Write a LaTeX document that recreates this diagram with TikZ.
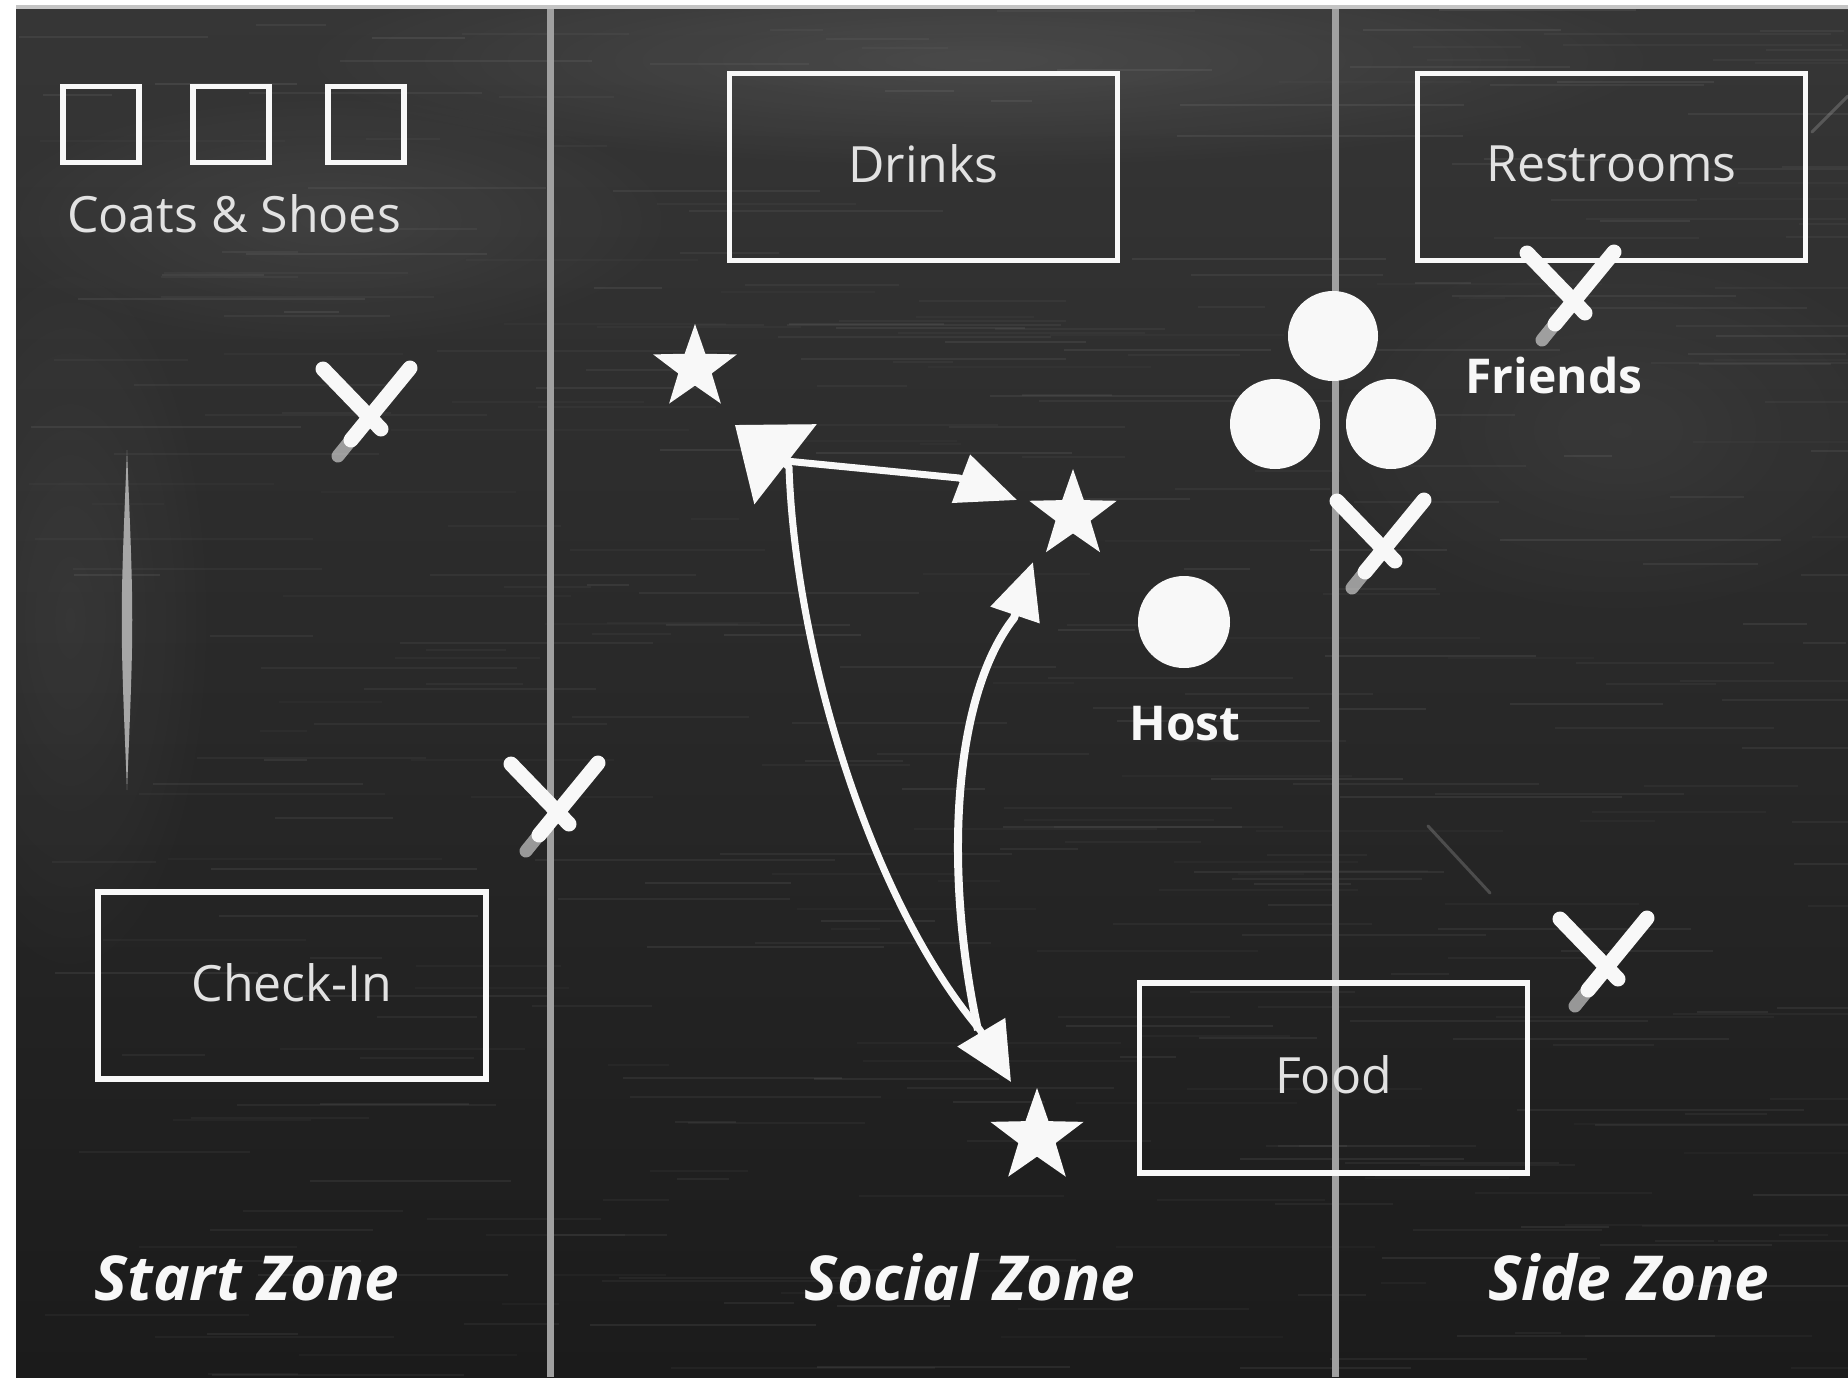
\documentclass[tikz,border=0pt]{standalone}
\usepackage{fontspec}
\setmainfont{Open Sans}
\usetikzlibrary{shapes.geometric,arrows.meta,fadings}

\definecolor{boardtop}{HTML}{363636}
\definecolor{boardmid}{HTML}{2C2C2C}
\definecolor{boardbot}{HTML}{1B1B1B}
\definecolor{chalk}{HTML}{F8F8F8}
\definecolor{chalktext}{HTML}{E2E2E2}
\definecolor{zoneline}{HTML}{A0A0A0}
\definecolor{smear}{HTML}{A6A6A6}
\definecolor{edgegray}{HTML}{C4C4C4}

\tikzfading[name=softspot, inner color=transparent!0, outer color=transparent!100]

\tikzset{
  boxframe/.style={draw=chalk, line width=5.5pt, inner sep=0pt, text=chalktext,
    text depth=7pt, font=\fontsize{50}{60}\selectfont},
  plaintext/.style={text=chalktext, font=\fontsize{50}{60}\selectfont, inner sep=0pt, anchor=base},
  boldtag/.style={text=chalk, font=\fontsize{48}{58}\selectfont\bfseries, inner sep=0pt, anchor=base},
  zonetext/.style={text=chalk, font=\fontsize{62}{74}\selectfont\bfseries\itshape, inner sep=0pt, anchor=base},
  person/.style={circle, fill=chalk, minimum size=90pt, inner sep=0pt},
  guest/.style={star, star points=5, star point ratio=2.5, fill=chalk, inner sep=0pt},
  chalkline/.style={draw=chalk, line width=7pt, line join=round},
  divider/.style={draw=zoneline, line width=7pt},
  dust/.style={fill=white, path fading=softspot},
  faintstroke/.style={draw=white, line width=3pt, line cap=round, opacity=0.18},
  xarm/.style={draw=chalk, line width=15pt, line cap=round},
  xfaint/.style={draw=chalk, line width=13pt, line cap=round, opacity=0.55},
  chalkx/.pic={
    \draw[xarm] (-40,-49) -- (18,11);
    \draw[xarm] (47,-50) -- (-12,22);
    \draw[xfaint] (-12,22) -- (-25,38);
  }
}

\begin{document}
\begin{tikzpicture}[x=1pt,y=-1pt]
\useasboundingbox (0,0) rectangle (1848,1377);

% page and chalkboard
\fill[white] (0,0) rectangle (1848,1377);
\fill[edgegray] (16,5) rectangle (1848,9);
\shade[top color=boardtop, middle color=boardmid, bottom color=boardbot]
  (16,9) rectangle (1848,1377);

% chalk dust and streaks on the board
\begin{scope}
  \clip (16,9) rectangle (1848,1377);
  \fill[dust, opacity=0.10] (980,60) ellipse (700 and 110);
  \fill[dust, opacity=0.07] (330,220) ellipse (360 and 130);
  \fill[dust, opacity=0.06] (70,620) ellipse (150 and 380);
  \fill[dust, opacity=0.05] (1620,430) ellipse (320 and 200);
  \pgfmathsetseed{1848}
  \foreach \k in {1,...,380}{
    \pgfmathsetmacro{\sx}{16+1800*rnd}
    \pgfmathsetmacro{\sy}{9+1368*rnd}
    \pgfmathsetmacro{\sl}{40+260*rnd}
    \pgfmathsetmacro{\so}{0.02+0.05*rnd}
    \draw[white, opacity=\so, line width=2pt] (\sx,\sy) -- ++(\sl,0);
  }
  \fill[smear] (127,450) .. controls (134,620) .. (127,790)
    .. controls (120,620) .. (127,450);
  \draw[faintstroke] (1812,132) -- (1848,96);
  \draw[faintstroke] (1428,826) -- (1490,893);
\end{scope}

% zone dividers
\coordinate (d1top) at (550,9);
\coordinate (d1bot) at (550,1377);
\coordinate (d2top) at (1335,9);
\coordinate (d2bot) at (1335,1377);
\draw[divider] (d1top) -- (d1bot);
\draw[divider] (d2top) -- (d2bot);

% coat and shoe cubbies
\node[boxframe, minimum width=76pt, minimum height=76pt] (cubby1) at (101,124.5) {};
\node[boxframe, minimum width=76pt, minimum height=76pt] (cubby2) at (231,124.5) {};
\node[boxframe, minimum width=76pt, minimum height=76pt] (cubby3) at (366,124.5) {};
\node[plaintext] (coatslabel) at (234,232) {Coats \& Shoes};

% stations
\node[boxframe, minimum width=388pt, minimum height=187pt] (drinks) at (923.5,167) {Drinks};
\node[boxframe, minimum width=388pt, minimum height=187pt] (restrooms) at (1611.5,167) {Restrooms};
\node[boxframe, minimum width=388pt, minimum height=187pt] (checkin) at (292,985.5) {Check-In};
\node[boxframe, minimum width=388pt, minimum height=190pt] (food) at (1333.5,1078) {Food};

% host and friends
\node[person] (friendtop) at (1333,336) {};
\node[person] (friendleft) at (1275,424) {};
\node[person] (friendright) at (1391,424) {};
\node[person, minimum size=92pt] (host) at (1184,622) {};
\node[boldtag] (hostlabel) at (1185,740) {Host};
\node[boldtag] (friendslabel) at (1554,393) {Friends};

% guests
\node[guest, minimum size=88pt] (guest1) at (695,368) {};
\node[guest, minimum size=92pt] (guest2) at (1073,515) {};
\node[guest, minimum size=98pt] (guest3) at (1037,1137) {};

% movement arrows between the guests
\coordinate (turnapex) at (735,425);
\coordinate (turnbase) at (789,467);
\coordinate (topstart) at (786,461);
\coordinate (topbase) at (959,478);
\coordinate (topapex) at (1017,500);
\coordinate (lowbase) at (980,1030);
\coordinate (lowapex) at (1011,1082);
\coordinate (risestart) at (978,1030);
\coordinate (risebase) at (1014,618);
\coordinate (riseapex) at (1033,562);

\draw[chalkline, {Triangle[length=64pt,width=100pt]}-{Triangle[length=58pt,width=54pt]}]
  (turnapex) -- (turnbase) .. controls (795,650) and (870,900) .. (lowbase) -- (lowapex);
\draw[chalkline, -{Triangle[length=60pt,width=50pt]}]
  (topstart) -- (topbase) -- (topapex);
\draw[chalkline, line width=8pt, -{Triangle[length=56pt,width=50pt]}]
  (risestart) .. controls (945,880) and (950,700) .. (risebase) -- (riseapex);

% chalk crosses
\pic at (363,418) {chalkx};
\pic at (551,813) {chalkx};
\pic at (1567,302) {chalkx};
\pic at (1377,550) {chalkx};
\pic at (1600,968) {chalkx};

% zone names
\node[zonetext] (startzone) at (247,1300) {Start Zone};
\node[zonetext] (socialzone) at (970,1300) {Social Zone};
\node[zonetext] (sidezone) at (1629,1300) {Side Zone};
\end{tikzpicture}
\end{document}
